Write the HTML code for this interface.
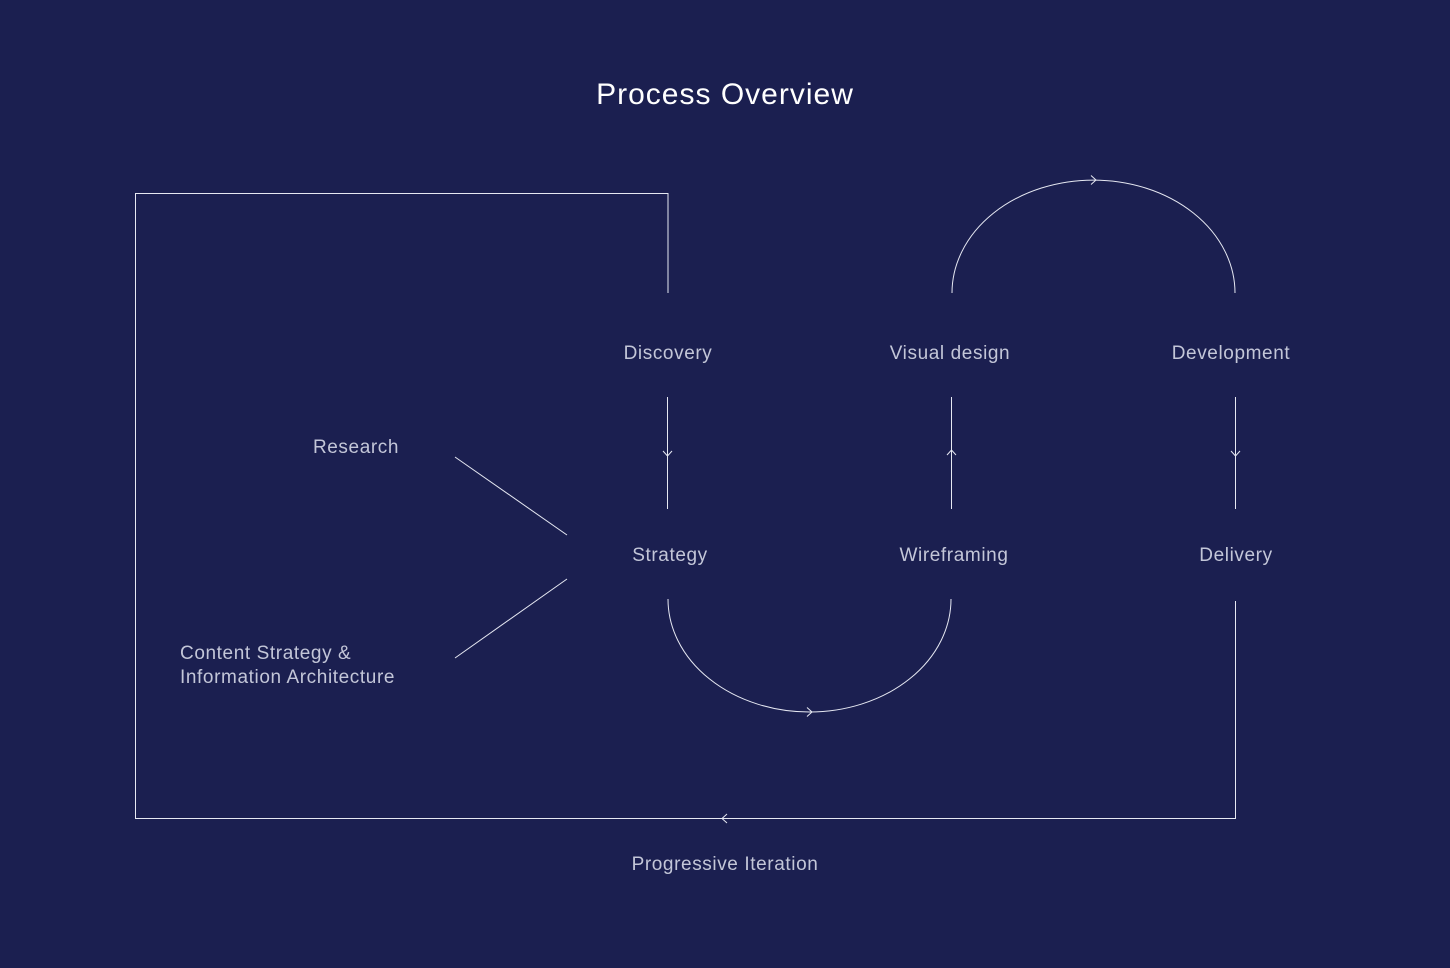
<!DOCTYPE html>
<html><head><style>
html,body{margin:0;padding:0;background:#1b1f50;}
body{width:1450px;height:963px;overflow:hidden;}
svg text{font-family:"Liberation Sans",sans-serif;fill:#c3c6d8;font-size:19px;letter-spacing:0.6px;}
</style></head><body>
<svg width="1450" height="963" viewBox="0 0 1450 963" xmlns="http://www.w3.org/2000/svg">
<rect width="1450" height="963" fill="#1b1f50"/>
<text x="725" y="104" text-anchor="middle" style="font-size:30px;letter-spacing:1px;fill:#ffffff">Process Overview</text>
<g stroke="#e6e8f2" stroke-width="1" fill="none">
<polyline points="668,293 668,193.5 135.5,193.5 135.5,818.5 1235.5,818.5 1235.5,601"/>
<line x1="667.5" y1="397" x2="667.5" y2="509"/>
<line x1="951.5" y1="397" x2="951.5" y2="509"/>
<line x1="1235.5" y1="397" x2="1235.5" y2="509"/>
<line x1="455" y1="457" x2="567" y2="535"/>
<line x1="455" y1="658" x2="567" y2="579"/>
<path d="M952,293 A141.5,113 0 0 1 1235,293"/>
<path d="M668,599 A141.5,113 0 0 0 951,599"/>
<polyline points="663,451 667.5,456 672,451"/>
<polyline points="1231,451 1235.5,456 1240,451"/>
<polyline points="947,455 951.5,450 956,455"/>
<polyline points="1091,175.5 1096,180 1091,184.5"/>
<polyline points="807,707.5 812,712 807,716.5"/>
<polyline points="727,814 722,818.5 727,823"/>
</g>
<text x="668" y="359" text-anchor="middle">Discovery</text>
<text x="950" y="359" text-anchor="middle">Visual design</text>
<text x="1231" y="359" text-anchor="middle">Development</text>
<text x="356" y="453" text-anchor="middle">Research</text>
<text x="670" y="561" text-anchor="middle">Strategy</text>
<text x="954" y="561" text-anchor="middle">Wireframing</text>
<text x="1236" y="561" text-anchor="middle">Delivery</text>
<text x="180" y="659">Content Strategy &amp;</text>
<text x="180" y="683">Information Architecture</text>
<text x="725" y="870" text-anchor="middle">Progressive Iteration</text>
</svg>
</body></html>
